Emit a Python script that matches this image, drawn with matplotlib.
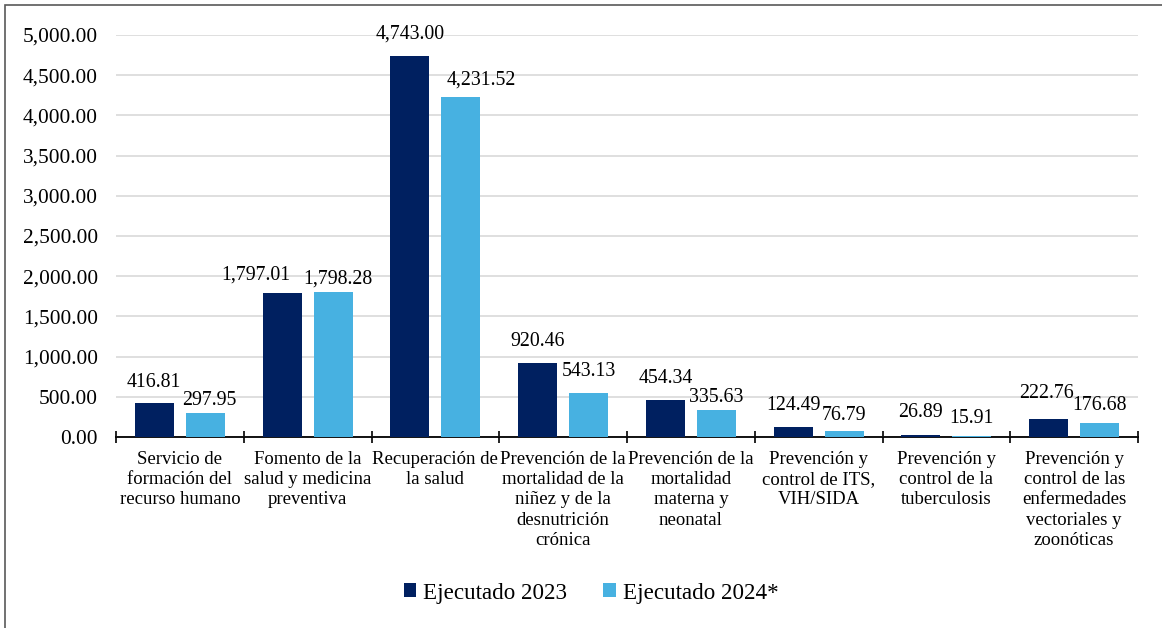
import numpy as np
import matplotlib.pyplot as plt
from matplotlib.patches import Rectangle

categorias = [
    "Servicio de\nformación del\nrecurso humano",
    "Fomento de la\nsalud y medicina\npreventiva",
    "Recuperación de\nla salud",
    "Prevención de la\nmortalidad de la\nniñez y de la\ndesnutrición\ncrónica",
    "Prevención de la\nmortalidad\nmaterna y\nneonatal",
    "Prevención y\ncontrol de ITS,\nVIH/SIDA",
    "Prevención y\ncontrol de la\ntuberculosis",
    "Prevención y\ncontrol de las\nenfermedades\nvectoriales y\nzoonóticas",
]
ejecutado_2023 = [416.81, 1797.01, 4743.00, 920.46, 454.34, 124.49, 26.89, 222.76]
ejecutado_2024 = [297.95, 1798.28, 4231.52, 543.13, 335.63, 76.79, 15.91, 176.68]
yticks = [0, 500, 1000, 1500, 2000, 2500, 3000, 3500, 4000, 4500, 5000]

# label offsets (pixels) from top of each bar, as placed in the original
off_2023 = [(-1, 21), (-26, 17), (0, 22), (0, 21), (0, 22), (0, 21), (0, 22), (-2, 26)]
off_2024 = [(4, 13), (5, 13), (20, 17), (0, 22), (0, 13), (0, 15), (0, 17), (0, 17)]

plt.rcParams['font.family'] = ['Liberation Serif', 'DejaVu Serif']

c_dark = '#002060'
c_light = '#47B1E1'

fig = plt.figure(figsize=(11.62, 6.28), dpi=100)
ax = fig.add_axes([116 / 1162, 1 - 437 / 628, (1138 - 116) / 1162, (437 - 35) / 628])

x = np.arange(len(categorias))
w = 0.305
b1 = ax.bar(x - 0.2, ejecutado_2023, w, color=c_dark, label='Ejecutado 2023', zorder=3)
b2 = ax.bar(x + 0.2, ejecutado_2024, w, color=c_light, label='Ejecutado 2024*', zorder=3)

for xs, vals, offs in [(x - 0.2, ejecutado_2023, off_2023), (x + 0.2, ejecutado_2024, off_2024)]:
    for xi, v, (dx, dy) in zip(xs, vals, offs):
        ax.annotate(f"{v:,.2f}", (xi, v), xytext=(dx, dy), textcoords='offset pixels',
                    ha='center', va='center', fontsize=14.3, zorder=4)

ax.set_xlim(-0.5, len(categorias) - 0.5)
ax.set_ylim(0, 5000)
ax.set_yticks(yticks)
ax.set_yticklabels([f"{v:,.2f}" for v in yticks], fontsize=15.4)
ax.yaxis.grid(True, color='#d9d9d9', linewidth=1.2, zorder=0)
ax.tick_params(axis='y', length=0, pad=13)

ax.set_xticks(x)
ax.set_xticklabels(categorias, fontsize=13.5, linespacing=1.25)
ax.tick_params(axis='x', length=0, pad=10)
ax.set_xticks(np.arange(-0.5, len(categorias)), minor=True)
ax.tick_params(axis='x', which='minor', length=8, direction='inout', width=1.2)

for s in ['top', 'right', 'left']:
    ax.spines[s].set_visible(False)
ax.spines['bottom'].set_linewidth(1.3)

fig.legend(handles=[b1, b2], loc='center', bbox_to_anchor=(591 / 1162, 1 - 593 / 628),
           ncol=2, frameon=False, fontsize=16.6, handlelength=0.55, handleheight=0.55,
           handletextpad=0.3, columnspacing=1.55)

# chart frame: only top and left edges fall inside the picture
fig.patches.append(Rectangle((5 / 1162, -0.1), 1.2, 1.1 - 5 / 628, transform=fig.transFigure,
                             fill=False, edgecolor='#595959', linewidth=1.2))

fig.savefig('out.png', dpi=100)
